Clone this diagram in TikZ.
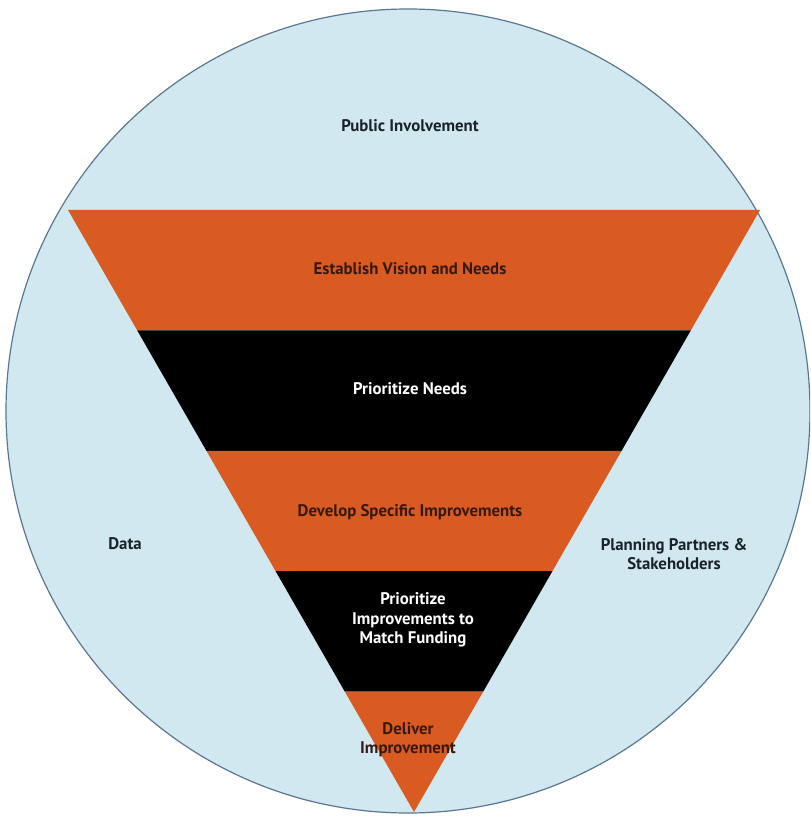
\documentclass[tikz,border=0pt]{standalone}
\usepackage{fontspec}
\setmainfont{PT Sans}
\usetikzlibrary{calc}
\definecolor{skyfill}{RGB}{210,232,240}
\definecolor{rimcol}{RGB}{90,120,145}
\definecolor{bandorange}{RGB}{217,91,34}
\definecolor{darktext}{RGB}{25,35,40}
\definecolor{orangetext}{RGB}{55,25,15}
\begin{document}
\begin{tikzpicture}[x=0.75pt,y=-0.75pt,
  lbl/.style={font=\bfseries\fontsize{12.6}{14.5}\selectfont, text=darktext, align=center, inner sep=0pt},
  olbl/.style={lbl, text=orangetext},
  wlbl/.style={lbl, text=white},
  obandfill/.style={fill=bandorange},
  kbandfill/.style={fill=black}]
\useasboundingbox (0,0) rectangle (810,816);
\fill[white] (0,0) rectangle (810,816);
\begin{scope}
\clip (0,0) rectangle (810,816);
\node[circle, draw=rimcol, fill=skyfill, line width=0.9pt, minimum size=804*0.75pt, inner sep=0pt] (disc) at (408,411) {};
\coordinate (tl) at (68,210);
\coordinate (tr) at (760,210);
\coordinate (apex) at (414,812);
\path[obandfill] (tl) -- (tr) -- ($(tr)!0.2!(apex)$) -- ($(tl)!0.2!(apex)$) -- cycle;
\path[kbandfill] ($(tl)!0.2!(apex)$) -- ($(tr)!0.2!(apex)$) -- ($(tr)!0.4!(apex)$) -- ($(tl)!0.4!(apex)$) -- cycle;
\path[obandfill] ($(tl)!0.4!(apex)$) -- ($(tr)!0.4!(apex)$) -- ($(tr)!0.6!(apex)$) -- ($(tl)!0.6!(apex)$) -- cycle;
\path[kbandfill] ($(tl)!0.6!(apex)$) -- ($(tr)!0.6!(apex)$) -- ($(tr)!0.8!(apex)$) -- ($(tl)!0.8!(apex)$) -- cycle;
\path[obandfill] ($(tl)!0.8!(apex)$) -- ($(tr)!0.8!(apex)$) -- (apex) -- cycle;
\end{scope}
\node[lbl] (pub) at (410,126) {Public Involvement};
\node[olbl] (est) at (410,269) {Establish Vision and Needs};
\node[wlbl] (pn) at (410,389) {Prioritize Needs};
\node[olbl] (dev) at (410,512) {Develop Specific Improvements};
\node[lbl] (data) at (125,544) {Data};
\node[lbl] (plan) at (674,554) {Planning Partners \&\\Stakeholders};
\node[wlbl] (pim) at (413,620) {Prioritize\\Improvements to\\Match Funding};
\node[olbl] (del) at (408,740) {Deliver\\Improvement};
\end{tikzpicture}
\end{document}
